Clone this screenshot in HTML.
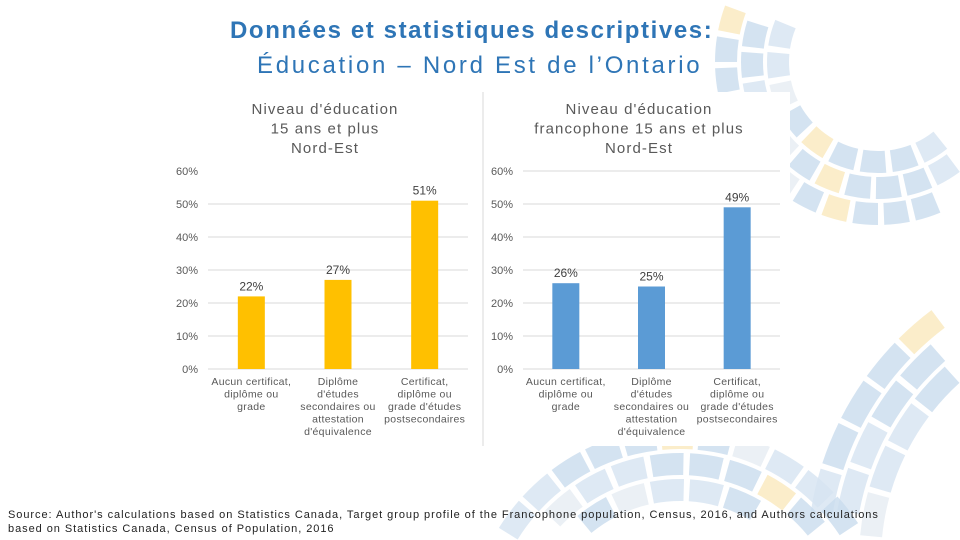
<!DOCTYPE html>
<html><head><meta charset="utf-8"><style>
html,body{margin:0;width:960px;height:540px;overflow:hidden;background:#fff;font-family:"Liberation Sans",sans-serif}
svg{position:absolute;left:0;top:0;display:block}
</style></head><body>
<svg width="960" height="540">
<g id="deco"></g>
<rect x="160" y="90" width="322" height="356" fill="#fff"/>
<rect x="483" y="92" width="307" height="354" fill="#fff"/>
<line x1="483" y1="92" x2="483" y2="446" stroke="#d9d9d9"/>
<text x="230" y="38" font-size="24" letter-spacing="1.6" font-weight="bold" fill="#2e75b6">Données et statistiques descriptives:</text>
<text x="257" y="73" font-size="24" letter-spacing="2.7" fill="#2e75b6">Éducation – Nord Est de l’Ontario</text>
<g id="c1"></g><g id="c2"></g>
<text x="8" y="518" font-size="11" letter-spacing="0.95" fill="#222">Source: Author's calculations based on Statistics Canada, Target group profile of the Francophone population, Census, 2016, and Authors calculations</text>
<text x="8" y="532" font-size="11" letter-spacing="0.95" fill="#222">based on Statistics Canada, Census of Population, 2016</text>
</svg>
<script>
const categories=[["Aucun certificat,","diplôme ou","grade"],["Diplôme","d'études","secondaires ou","attestation","d'équivalence"],["Certificat,","diplôme ou","grade d'études","postsecondaires"]];
const valuesAll=[22,27,51];
const valuesFranco=[26,25,49];
const ticks=[0,10,20,30,40,50,60];
const titleAll=["Niveau d'éducation","15 ans et plus","Nord-Est"];
const titleFranco=["Niveau d'éducation","francophone  15 ans et plus","Nord-Est"];
const NS="http://www.w3.org/2000/svg";
function mk(t,a,p){const e=document.createElementNS(NS,t);for(const k in a)e.setAttribute(k,a[k]);p.appendChild(e);return e;}
// decorative rings built from tiles, only tiles fully inside the frame
(function(){
  const deco=document.getElementById('deco');
  const rings=[[878,62,[100,126,152],24],[1120,560,[250,276,302],42],[680,640,[150,176,202],32]];
  const cols=['#c9dcee','#d6e4f1','#c9dcee','#e6ecf3','#c9dcee','#fae8bd','#d6e4f1','#c9dcee'];
  let k=0;
  rings.forEach(([cx,cy,rs,len])=>{
    rs.forEach((r,ri)=>{
      const n=Math.floor(2*Math.PI*r/(len+5));
      for(let i=0;i<n;i++){
        const a0=i*2*Math.PI/n,a1=a0+len/r;
        const r0=r-11,r1=r+11;
        const pts=[[r0,a0],[r1,a0],[r1,a1],[r0,a1]].map(([rr,a])=>[cx+rr*Math.cos(a),cy+rr*Math.sin(a)]);
        if(pts.some(p=>p[0]<0||p[0]>960||p[1]<0||p[1]>540))continue;
        k++;
        const d=`M${pts[0][0]},${pts[0][1]}L${pts[1][0]},${pts[1][1]}A${r1},${r1} 0 0 1 ${pts[2][0]},${pts[2][1]}L${pts[3][0]},${pts[3][1]}A${r0},${r0} 0 0 0 ${pts[0][0]},${pts[0][1]}Z`;
        const p=mk('path',{d:d,fill:cols[(i*3+ri*5)%cols.length],opacity:0.8},deco);
        
        
      }
    });
  });
})();
function chart(g,vals,title,color,x0,x1,tx,cx,tag,grid60){
  const y=v=>369-v*3.3;
  title.forEach((s,i)=>{const t=mk('text',{x:cx,y:114+i*19.5,'text-anchor':'middle','font-size':15,'letter-spacing':1.1,fill:'#595959'},g);t.textContent=s;
    
    });
  ticks.forEach(v=>{
    if(v>0&&(v<60||grid60)){const l=mk('line',{x1:x0,x2:x1,y1:y(v),y2:y(v),stroke:'#d9d9d9'},g);
      
      }
    const t=mk('text',{x:tx,y:y(v)+4,'text-anchor':'end','font-size':11,fill:'#595959'},g);t.textContent=v+'%';
    
    });
  const base=mk('line',{x1:x0,x2:x1,y1:y(0),y2:y(0),stroke:'#d9d9d9'},g);
  
  
  const band=(x1-x0)/vals.length;
  vals.forEach((v,i)=>{const c=x0+band*(i+0.5);
    const r=mk('rect',{x:c-13.5,y:y(v),width:27,height:y(0)-y(v),fill:color},g);
    
    
    const t=mk('text',{x:c,y:y(v)-6,'text-anchor':'middle','font-size':12,fill:'#404040'},g);t.textContent=v+'%';
    
    
    categories[i].forEach((s,j)=>{const l=mk('text',{x:c,y:385+j*12.5,'text-anchor':'middle','font-size':10.5,'letter-spacing':0.3,fill:'#595959'},g);l.textContent=s;
      
      });
  });
}
chart(document.getElementById('c1'),valuesAll,titleAll,'#ffc000',208,468,198,325,'all',false);
chart(document.getElementById('c2'),valuesFranco,titleFranco,'#5b9bd5',523,780,513,639,'franco',true);
</script>
</body></html>
